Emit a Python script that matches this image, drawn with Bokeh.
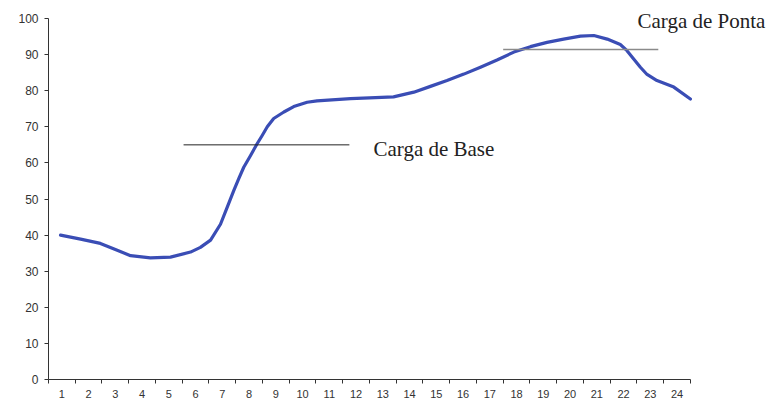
from bokeh.plotting import figure
from bokeh.models import Range1d, FixedTicker, Label, ColumnDataSource
from bokeh.embed import file_html
from bokeh.resources import INLINE

# Load curve (hour, % load)
hour = [0.95, 1.7, 2.44, 3.0, 3.57, 4.31, 5.06, 5.81, 6.18, 6.56, 6.93, 7.18, 7.43,
        7.61, 7.80, 8.05, 8.30, 8.49, 8.68, 8.92, 9.30, 9.67, 10.17, 10.54, 11.79,
        12.5, 13.4, 14.16, 14.78, 15.40, 16.03, 16.65, 17.27, 17.9, 18.52, 19.14,
        19.76, 20.39, 20.89, 21.39, 21.88, 22.13, 22.38, 22.63, 22.88, 23.25,
        23.88, 24.5]
load = [40.0, 38.9, 37.7, 36.0, 34.3, 33.7, 33.9, 35.3, 36.6, 38.6, 43.0, 47.7, 52.4,
        55.6, 58.8, 62.0, 65.3, 67.6, 70.0, 72.3, 74.1, 75.6, 76.8, 77.2, 77.8,
        78.0, 78.3, 79.6, 81.2, 82.8, 84.6, 86.5, 88.5, 90.7, 92.2, 93.4,
        94.3, 95.1, 95.3, 94.3, 92.8, 91.1, 88.8, 86.5, 84.5, 82.8,
        81.0, 77.7]

x_ticks = list(range(1, 25))
x_labels = [str(h) for h in x_ticks]
y_ticks = list(range(0, 101, 10))

base_level = 65.0
base_span = [5.55, 11.75]
peak_level = 91.4
peak_span = [17.5, 23.3]
base_text = "Carga de Base"
peak_text = "Carga de Ponta"

p = figure(width=772, height=400, output_backend="svg", toolbar_location=None,
           x_range=Range1d(0.5, 27.57), y_range=Range1d(0, 104.99),
           min_border_left=48, min_border_right=0, min_border_top=0,
           min_border_bottom=21)
p.outline_line_color = None
p.xgrid.grid_line_color = None
p.ygrid.grid_line_color = None

src = ColumnDataSource(dict(x=hour, y=load))
p.line("x", "y", source=src, line_color="#3a4db5", line_width=3.2,
       line_join="round", line_cap="round")

p.line(base_span, [base_level, base_level], line_color="#222222", line_width=1)
p.line(peak_span, [peak_level, peak_level], line_color="#8a8a8a", line_width=1.6)

p.add_layout(Label(x=12.65, y=63.8, text=base_text, text_font="Liberation Serif",
                   text_font_size="21px", text_color="#222222",
                   text_baseline="middle"))
p.add_layout(Label(x=22.52, y=99.4, text=peak_text, text_font="Liberation Serif",
                   text_font_size="21px", text_color="#222222",
                   text_baseline="middle"))

xa = p.xaxis[0]
xa.bounds = (0.5, 24.5)
xa.ticker = FixedTicker(ticks=x_ticks, minor_ticks=[t + 0.5 for t in range(0, 25)])
xa.major_label_overrides = {t: l for t, l in zip(x_ticks, x_labels)}
xa.major_tick_out = 0
xa.major_tick_in = 0
xa.minor_tick_out = 4
xa.minor_tick_in = 0
xa.major_label_standoff = 6
xa.major_label_text_font = "Liberation Sans"
xa.major_label_text_font_size = "11px"
xa.major_label_text_color = "#333333"
xa.axis_line_color = "#333333"
xa.minor_tick_line_color = "#333333"

ya = p.yaxis[0]
ya.bounds = (0, 100)
ya.ticker = FixedTicker(ticks=y_ticks, minor_ticks=[])
ya.major_tick_out = 4
ya.major_tick_in = 0
ya.major_label_standoff = 6
ya.major_label_text_font = "Liberation Sans"
ya.major_label_text_font_size = "12px"
ya.major_label_text_color = "#333333"
ya.axis_line_color = "#333333"
ya.major_tick_line_color = "#333333"

open("out.html", "w").write(file_html(p, INLINE))
